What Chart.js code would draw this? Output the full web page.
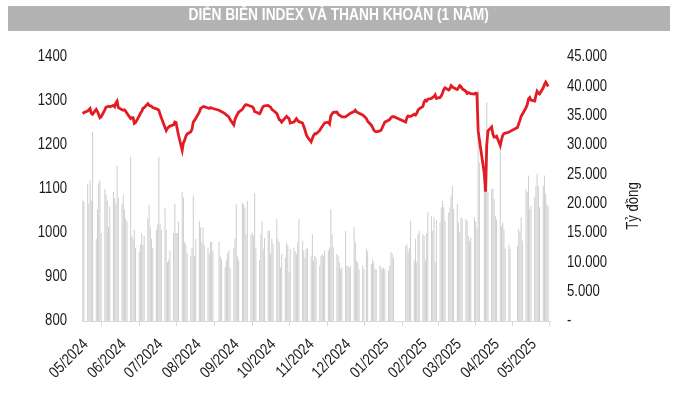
<!DOCTYPE html>
<html lang="vi">
<head>
    <meta charset="UTF-8">
    <title>Diễn biến Index và thanh khoản</title>
    <script src="https://cdn.jsdelivr.net/npm/chart.js"></script>
    <style>
        body { margin: 0; background: #fff; }
        #wrap { position: relative; width: 697px; height: 397px; }
        #header {
            position: absolute; left: 8px; top: 6px; width: 662px; height: 25px;
            background: #b3b3b3; color: #fff; text-align: center; line-height: 25px;
            font: bold 16px 'Liberation Sans', Arial, sans-serif;
        }
        #header span { display: inline-block; transform: scaleX(0.86); }
        canvas { position: absolute; left: 0; top: 0; }
    </style>
</head>
<body>
<div id="wrap">
    <canvas id="chart" width="697" height="397"></canvas>
    <div id="header"><span>DIỄN BIẾN INDEX VÀ THANH KHOẢN (1 NĂM)</span></div>
</div>

<script>
    // trading calendar: 16/05/2024 -> 30/05/2025, weekends and exchange holidays skipped
    var firstDay = Date.UTC(2024, 4, 16);
    var lastDay = Date.UTC(2025, 4, 30);
    var holidays = ['2024-09-02', '2024-09-03', '2025-01-01', '2025-01-27', '2025-01-28', '2025-01-29',
        '2025-01-30', '2025-01-31', '2025-04-07', '2025-04-30', '2025-05-01', '2025-05-02'];

    var monthLabels = ['05/2024', '06/2024', '07/2024', '08/2024', '09/2024', '10/2024', '11/2024',
        '12/2024', '01/2025', '02/2025', '03/2025', '04/2025', '05/2025'];

    // VN-Index close, one row per month
    var indexClose = [
        1271, 1274, 1277, 1280, 1283, 1272, 1270, 1281, 1276, 1269, 1262, 1264,
        1280, 1286, 1287, 1288, 1287, 1290, 1287, 1296, 1300, 1285, 1280, 1279, 1280, 1277, 1272, 1260, 1262, 1262, 1249, 1251,
        1266, 1272, 1276, 1283, 1285, 1294, 1290, 1289, 1288, 1285, 1282, 1281, 1279, 1270, 1262, 1240, 1233, 1238, 1241, 1243, 1246, 1252, 1251,
        1236, 1222, 1188, 1205, 1211, 1220, 1225, 1230, 1236, 1252, 1256, 1260, 1275, 1283, 1285, 1287, 1287, 1284, 1283, 1285, 1284, 1283,
        1279, 1277, 1276, 1271, 1268, 1266, 1264, 1258, 1246, 1258, 1265, 1270, 1275, 1281, 1286, 1290, 1292, 1291, 1288,
        1287, 1284, 1276, 1275, 1271, 1276, 1283, 1288, 1289, 1290, 1288, 1286, 1281, 1279, 1272, 1265, 1258, 1256, 1252, 1262, 1265, 1262, 1260,
        1250, 1252, 1256, 1260, 1256, 1253, 1250, 1242, 1234, 1224, 1218, 1207, 1215, 1222, 1226, 1225, 1233, 1238, 1242, 1246, 1250,
        1252, 1248, 1266, 1271, 1274, 1275, 1270, 1268, 1266, 1264, 1264, 1266, 1268, 1270, 1272, 1276, 1279, 1275, 1274, 1272, 1268, 1266,
        1260, 1254, 1245, 1240, 1234, 1231, 1230, 1232, 1234, 1240, 1246, 1252, 1256, 1258, 1262, 1264, 1265,
        1252, 1262, 1266, 1265, 1265, 1270, 1268, 1272, 1279, 1282, 1288, 1298, 1302, 1300, 1304, 1306, 1308, 1310, 1314, 1306,
        1308, 1312, 1318, 1326, 1330, 1325, 1328, 1335, 1332, 1330, 1326, 1330, 1335, 1333, 1328, 1322, 1317, 1319, 1318, 1317, 1316,
        1318, 1317, 1232, 1212, 1135, 1094, 1200, 1232, 1241, 1225, 1218, 1218, 1220, 1199, 1212, 1222, 1226, 1227, 1229, 1231,
        1240, 1248, 1256, 1265, 1270, 1285, 1292, 1305, 1308, 1302, 1300, 1312, 1322, 1318, 1316, 1330, 1338, 1343, 1338, 1333
    ];

    // liquidity, ty dong
    var liquidity = [
        20500, 20300, 23400, 20000, 24000, 20500, 32200, 14000, 19000, 23500, 24000, 15000,
        22500, 21500, 20500, 16000, 19500, 22000, 21000, 20000, 26500, 21000, 20000, 21500, 19000, 17500, 17000, 28000, 14500, 14000, 15500, 12500,
        11800, 13000, 15000, 13000, 14500, 17500, 19800, 16000, 14000, 12500, 15500, 16500, 28000, 16600, 15500, 19300, 15500, 10000, 10500, 12000, 15000, 20000, 15000,
        15000, 17000, 22000, 21000, 13500, 13000, 11500, 11000, 12500, 21400, 11000, 14000, 17000, 16000, 13500, 16000, 13000, 12500, 11500, 13500, 13500, 12000,
        13500, 11000, 10500, 9200, 10500, 11500, 12000, 9000, 12500, 14000, 20000, 11000, 10400, 20200, 19900, 19300, 14800, 20500, 14800,
        15000, 14500, 21800, 12500, 10400, 14800, 17000, 12300, 14200, 15400, 15400, 11400, 14000, 13100, 17400, 14000, 13400, 9100, 11400, 10800, 13400, 12800, 8300,
        12300, 12500, 11900, 11400, 13400, 17400, 13700, 12000, 10800, 12300, 12300, 11100, 14800, 10300, 11100, 10800, 9400, 11100, 11400, 11100, 12000,
        12000, 12500, 19100, 14800, 12600, 11400, 11100, 9980, 8840, 9120, 15400, 9410, 9410, 9120, 9300, 16000, 13400, 10260, 9980, 8840, 9500, 8840,
        12300, 11900, 9700, 10500, 9980, 8840, 8840, 9410, 9120, 8840, 9120, 8840, 8560, 9410, 11700, 11400, 10800,
        12800, 13100, 11700, 12500, 17100, 10300, 14000, 10000, 14800, 15400, 14800, 14500, 10300, 15000, 18500, 17900, 15400, 17700, 10000, 17200,
        16800, 19400, 20500, 19400, 17100, 18500, 19400, 21400, 23000, 19100, 19900, 16800, 15100, 17700, 17400, 17400, 17100, 14500, 13700, 14200, 17700,
        17000, 15800, 39500, 27000, 23000, 30000, 37300, 22000, 22500, 22500, 20800, 17900, 17300, 30000, 16200, 16800, 15700, 12300, 13000, 12300,
        12800, 15700, 15100, 17700, 13700, 22500, 22000, 24800, 19100, 19700, 21000, 23000, 25100, 23000, 19400, 23000, 24800, 21700, 20000, 19500
    ];

    var DAY = 86400000;
    var tradingDays = [];
    for (var t = firstDay; t <= lastDay; t += DAY) {
        var d = new Date(t);
        var wd = d.getUTCDay();
        if (wd === 0 || wd === 6 || holidays.indexOf(d.toISOString().slice(0, 10)) >= 0) continue;
        tradingDays.push((t - firstDay) / DAY);
    }
    if (tradingDays.length !== indexClose.length) console.log('length mismatch', tradingDays.length, indexClose.length);

    var tickDays = monthLabels.map(function(m, i) {
        return (Date.UTC(2024, 4 + i, 16) - firstDay) / DAY;
    });

    var font = "'Liberation Sans', Arial, sans-serif";
    var textColor = '#1a1a1a';

    // the original uses a narrow face; draw the axis texts with a horizontal squeeze
    var axisLabels = {
        id: 'axisLabels',
        afterDraw: function(chart) {
            var ctx = chart.ctx;
            var area = chart.chartArea;
            var x = chart.scales.x, yL = chart.scales.yL, yR = chart.scales.yR;

            function narrow(text, px, py, align, angle) {
                ctx.save();
                ctx.translate(px, py);
                if (angle) ctx.rotate(angle);
                ctx.scale(0.82, 1);
                ctx.textAlign = align;
                ctx.fillText(text, 0, 0);
                ctx.restore();
            }

            ctx.save();
            ctx.fillStyle = textColor;
            ctx.font = '16px ' + font;
            ctx.textBaseline = 'middle';
            yL.ticks.forEach(function(tk) {
                narrow(String(tk.value), yL.right - 15, yL.getPixelForValue(tk.value), 'right');
            });
            yR.ticks.forEach(function(tk) {
                var txt = tk.value === 0 ? '-' : tk.value.toLocaleString('de-DE');
                narrow(txt, yR.left + 17, yR.getPixelForValue(tk.value), 'left');
            });
            x.ticks.forEach(function(tk, i) {
                narrow(monthLabels[i], x.getPixelForValue(tk.value) + 3, area.bottom + 21, 'right', -Math.PI / 4);
            });
            narrow('Tỷ đồng', yR.left + 84, (area.top + area.bottom) / 2 + 17, 'center', -Math.PI / 2);
            ctx.restore();
        }
    };

    new Chart(document.getElementById('chart'), {
        type: 'bar',
        data: {
            datasets: [{
                type: 'line',
                label: 'VN-Index',
                data: tradingDays.map(function(x, i) { return { x: x, y: indexClose[i] }; }),
                yAxisID: 'yL',
                borderColor: '#e31b23',
                borderWidth: 2.8,
                pointRadius: 0,
                tension: 0,
                order: 1
            }, {
                label: 'Thanh khoản',
                data: tradingDays.map(function(x, i) { return { x: x, y: liquidity[i] }; }),
                yAxisID: 'yR',
                backgroundColor: '#d0d0d0',
                barPercentage: 1,
                categoryPercentage: 0.85,
                order: 2
            }]
        },
        options: {
            responsive: false,
            animation: false,
            layout: { padding: { top: 57, left: 0, right: 0, bottom: 0 } },
            plugins: { legend: { display: false }, tooltip: { enabled: false } },
            scales: {
                x: {
                    type: 'linear',
                    min: -0.6,
                    max: 380.5,
                    offset: false,
                    afterBuildTicks: function(s) {
                        s.ticks = tickDays.map(function(v) { return { value: v }; });
                    },
                    afterFit: function(s) { s.height = 76; },
                    ticks: { display: false },
                    grid: { display: true, drawOnChartArea: false, tickLength: 5, color: '#d9d9d9' },
                    border: { display: true, color: '#d9d9d9' }
                },
                yL: {
                    position: 'left',
                    min: 800,
                    max: 1400,
                    afterFit: function(s) { s.width = 82; },
                    ticks: { display: false, stepSize: 100 },
                    grid: { display: false, drawTicks: false },
                    border: { display: false }
                },
                yR: {
                    position: 'right',
                    min: 0,
                    max: 45000,
                    afterFit: function(s) { s.width = 147; },
                    ticks: { display: false, stepSize: 5000 },
                    grid: { display: false, drawTicks: false },
                    border: { display: false }
                }
            }
        },
        plugins: [axisLabels]
    });
</script>
</body>
</html>
